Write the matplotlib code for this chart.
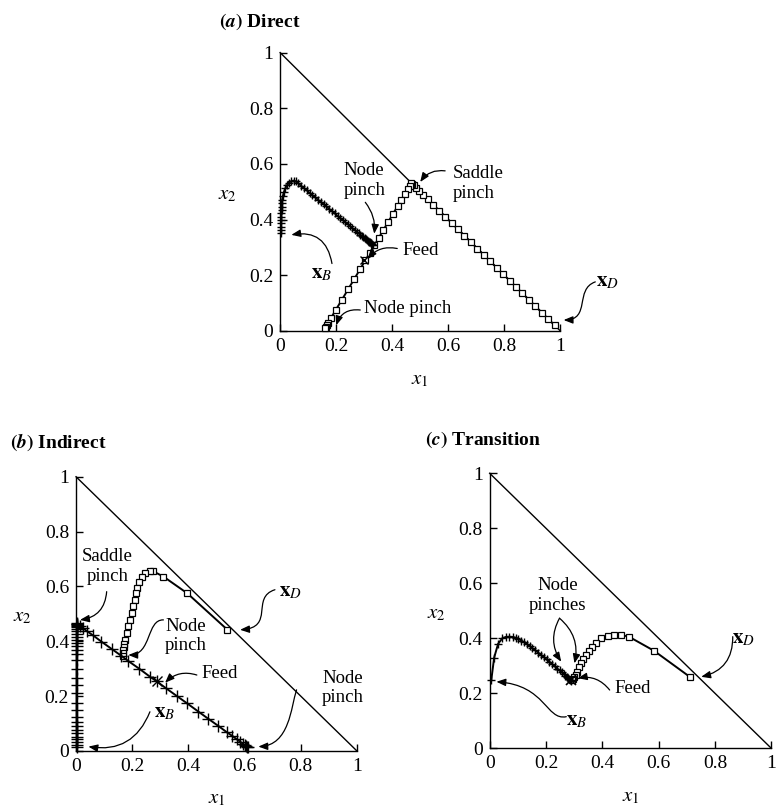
import matplotlib
matplotlib.use('Agg')
import matplotlib.pyplot as plt
from matplotlib.patches import FancyArrowPatch
from matplotlib.path import Path

plt.rcParams['font.family'] = ['Liberation Serif', 'DejaVu Serif']
plt.rcParams['mathtext.fontset'] = 'stix'

tick_vals = [0, 0.2, 0.4, 0.6, 0.8, 1]
tick_labels = ['0', '0.2', '0.4', '0.6', '0.8', '1']

# ---------------- (a) Direct ----------------
a_rect_x = [0.980, 0.957, 0.934, 0.911, 0.888, 0.865, 0.842, 0.819, 0.796, 0.773,
            0.750, 0.727, 0.704, 0.681, 0.658, 0.635, 0.612, 0.590, 0.568, 0.547,
            0.527, 0.510, 0.496, 0.485, 0.477, 0.471, 0.467,
            0.463, 0.455, 0.446, 0.433, 0.420, 0.403, 0.385, 0.368, 0.352, 0.336,
            0.320, 0.304, 0.285, 0.265, 0.243, 0.220, 0.199, 0.182, 0.172, 0.166,
            0.163, 0.161]
a_rect_y = [0.020, 0.043, 0.066, 0.089, 0.112, 0.135, 0.158, 0.181, 0.204, 0.227,
            0.250, 0.273, 0.296, 0.319, 0.342, 0.365, 0.388, 0.410, 0.432, 0.453,
            0.473, 0.490, 0.504, 0.515, 0.523, 0.529, 0.533,
            0.522, 0.509, 0.493, 0.471, 0.449, 0.421, 0.390, 0.362, 0.334, 0.307,
            0.280, 0.253, 0.221, 0.187, 0.150, 0.111, 0.076, 0.047, 0.030, 0.020,
            0.015, 0.012]
a_strip_x = [0.003, 0.003, 0.003, 0.003, 0.004, 0.004, 0.004, 0.005, 0.005, 0.005,
             0.007, 0.010, 0.014, 0.019, 0.025, 0.032, 0.040, 0.048, 0.056,
             0.065, 0.075, 0.085, 0.095, 0.105, 0.115, 0.125, 0.135, 0.145, 0.155,
             0.165, 0.175, 0.185, 0.195, 0.205, 0.215, 0.224, 0.233, 0.242, 0.250,
             0.258, 0.266, 0.273, 0.280, 0.286, 0.292, 0.297, 0.302, 0.306, 0.310,
             0.314, 0.317, 0.320, 0.323, 0.325, 0.327, 0.329, 0.330]
a_strip_y = [0.350, 0.362, 0.374, 0.386, 0.398, 0.410, 0.422, 0.434, 0.446, 0.458,
             0.470, 0.485, 0.500, 0.513, 0.524, 0.533, 0.538, 0.540, 0.537,
             0.530, 0.521, 0.513, 0.505, 0.496, 0.488, 0.480, 0.471, 0.463, 0.455,
             0.447, 0.438, 0.430, 0.422, 0.413, 0.405, 0.398, 0.390, 0.383, 0.376,
             0.369, 0.363, 0.357, 0.351, 0.346, 0.341, 0.337, 0.333, 0.330, 0.326,
             0.323, 0.320, 0.318, 0.315, 0.314, 0.312, 0.310, 0.310]
a_feed = (0.300, 0.256)

# ---------------- (b) Indirect ----------------
b_strip_x = [0.002] * 31 + [0.005, 0.014, 0.026, 0.040, 0.060, 0.090, 0.127, 0.160, 0.186,
                            0.225, 0.263, 0.287, 0.320, 0.358, 0.395, 0.435, 0.470, 0.507,
                            0.536, 0.556, 0.572, 0.584, 0.593, 0.600, 0.605, 0.609, 0.612]
b_strip_y = [0.015, 0.022, 0.032, 0.042, 0.052, 0.064, 0.076, 0.090, 0.105, 0.125,
             0.150, 0.174, 0.210, 0.240, 0.266, 0.300, 0.332, 0.355, 0.369, 0.383,
             0.394, 0.405, 0.417, 0.428, 0.438, 0.446, 0.452, 0.457, 0.461, 0.464, 0.466,
             0.462, 0.456, 0.447, 0.436, 0.422, 0.399, 0.372, 0.348, 0.328,
             0.300, 0.271, 0.254, 0.229, 0.201, 0.174, 0.144, 0.118, 0.091,
             0.069, 0.055, 0.043, 0.034, 0.027, 0.022, 0.018, 0.015, 0.013]
b_rect_x = [0.539, 0.396, 0.311, 0.275, 0.263, 0.246, 0.234, 0.225, 0.218, 0.214,
            0.210, 0.204, 0.198, 0.192, 0.186, 0.180, 0.174, 0.171, 0.169, 0.168,
            0.167, 0.166]
b_rect_y = [0.442, 0.575, 0.636, 0.655, 0.655, 0.649, 0.636, 0.618, 0.594, 0.575,
            0.551, 0.527, 0.503, 0.478, 0.454, 0.430, 0.405, 0.390, 0.378, 0.368,
            0.357, 0.348]
b_feed = (0.287, 0.254)

# ---------------- (c) Transition ----------------
c_strip_x = [0.006, 0.016, 0.030, 0.045, 0.058, 0.070, 0.082, 0.092, 0.102, 0.112,
             0.122, 0.132, 0.142, 0.152, 0.162, 0.172, 0.182, 0.192, 0.202, 0.212,
             0.222, 0.231, 0.240, 0.248, 0.256, 0.263, 0.269, 0.274, 0.278, 0.282,
             0.285, 0.287, 0.289]
c_strip_y = [0.250, 0.330, 0.380, 0.400, 0.405, 0.406, 0.405, 0.402, 0.398, 0.392,
             0.386, 0.379, 0.372, 0.364, 0.356, 0.348, 0.340, 0.332, 0.323, 0.315,
             0.306, 0.298, 0.290, 0.283, 0.276, 0.270, 0.264, 0.259, 0.256, 0.253,
             0.250, 0.248, 0.246]
c_rect_x = [0.713, 0.583, 0.494, 0.468, 0.443, 0.420, 0.396, 0.378, 0.364, 0.352,
            0.343, 0.333, 0.325, 0.317, 0.310, 0.305, 0.301, 0.296, 0.292]
c_rect_y = [0.258, 0.355, 0.406, 0.412, 0.412, 0.408, 0.400, 0.384, 0.369, 0.355,
            0.339, 0.324, 0.309, 0.295, 0.279, 0.267, 0.258, 0.252, 0.248]
c_feed = (0.290, 0.248)

fig = plt.figure(figsize=(7.76, 8.09), dpi=100)
ax_a = fig.add_axes([0.361, 0.591, 0.361, 0.344])
ax_b = fig.add_axes([0.098, 0.0717, 0.362, 0.339])
ax_c = fig.add_axes([0.631, 0.075, 0.363, 0.340])

LW = 1.4
SQ = dict(marker='s', ms=4.5, mfc='white', mec='black', mew=0.9)
PL = dict(marker='+', ms=6, mew=1.0)
ANN = 13.5
HEAD = '-|>,head_length=0.55,head_width=0.22'


def style(ax):
    ax.set_xlim(0, 1)
    ax.set_ylim(0, 1)
    for s in ['top', 'right']:
        ax.spines[s].set_visible(False)
    for s in ['left', 'bottom']:
        ax.spines[s].set_linewidth(1.0)
    ax.set_xticks(tick_vals)
    ax.set_xticklabels(tick_labels)
    ax.set_yticks(tick_vals)
    ax.set_yticklabels(tick_labels)
    ax.tick_params(direction='in', length=5, width=1.0, labelsize=14, pad=5)
    ax.plot([0, 1], [1, 0], color='black', lw=1.0, clip_on=False)
    ax.text(0.5, -0.175, r'$x_1$', fontsize=15, ha='center', va='center',
            transform=ax.transAxes)
    ax.text(-0.19, 0.49, r'$x_2$', fontsize=15, ha='center', va='center',
            transform=ax.transAxes)


def arrow(ax, start, end, rad):
    ax.annotate('', xy=end, xytext=start,
                arrowprops=dict(arrowstyle=HEAD,
                                connectionstyle='arc3,rad=%s' % rad,
                                color='black', lw=0.9, shrinkA=0, shrinkB=0),
                annotation_clip=False)


def s_arrow(ax, p0, p1, p2, p3):
    path = Path([p0, p1, p2, p3],
                [Path.MOVETO, Path.CURVE4, Path.CURVE4, Path.CURVE4])
    patch = FancyArrowPatch(path=path, arrowstyle=HEAD, color='black', lw=0.9,
                            transform=ax.transData, clip_on=False,
                            mutation_scale=10)
    ax.add_patch(patch)


def title(ax, letter, word, x, y):
    ax.text(x, y, r'$\mathbf{(}\mathbfit{%s}\mathbf{)}$ %s' % (letter, word),
            fontsize=14, fontweight='bold', ha='left', va='center',
            transform=ax.transAxes)


# ---- panel a ----
style(ax_a)
ax_a.plot(a_rect_x, a_rect_y, color='black', lw=LW, clip_on=False, zorder=3, **SQ)
ax_a.plot(a_strip_x, a_strip_y, color='black', lw=LW, clip_on=False, zorder=4,
          **PL)
ax_a.plot([a_feed[0]], [a_feed[1]], color='black', marker='x', ms=6, mew=1.0,
          zorder=5)
title(ax_a, 'a', 'Direct', -0.22, 1.11)
ax_a.text(0.30, 0.54, 'Node\npinch', fontsize=ANN, ha='center', va='center')
arrow(ax_a, (0.304, 0.462), (0.336, 0.349), -0.2)
ax_a.text(0.615, 0.53, 'Saddle\npinch', fontsize=ANN, ha='left', va='center')
arrow(ax_a, (0.589, 0.575), (0.50, 0.535), 0.3)
ax_a.text(0.436, 0.29, 'Feed', fontsize=ANN, ha='left', va='center')
arrow(ax_a, (0.418, 0.296), (0.312, 0.258), 0.3)
ax_a.text(0.15, 0.205, r'$\mathbf{x}_B$', fontsize=15, ha='center', va='center')
arrow(ax_a, (0.185, 0.242), (0.04, 0.345), 0.5)
ax_a.text(0.30, 0.08, 'Node pinch', fontsize=ANN, ha='left', va='center')
arrow(ax_a, (0.286, 0.075), (0.20, 0.02), 0.4)
ax_a.text(1.17, 0.175, r'$\mathbf{x}_D$', fontsize=15, ha='center', va='center')
s_arrow(ax_a, (1.125, 0.176), (1.05, 0.15), (1.11, 0.04), (1.012, 0.039))

# ---- panel b ----
style(ax_b)
ax_b.plot(b_strip_x, b_strip_y, color='black', lw=LW, clip_on=False, zorder=4,
          marker='+', ms=8, mew=1.0)
ax_b.plot(b_rect_x, b_rect_y, color='black', lw=LW, clip_on=False, zorder=3, **SQ)
ax_b.plot([b_feed[0]], [b_feed[1]], color='black', marker='x', ms=7, mew=1.0,
          zorder=5)
title(ax_b, 'b', 'Indirect', -0.235, 1.124)
ax_b.text(0.112, 0.672, 'Saddle\npinch', fontsize=ANN, ha='center', va='center')
arrow(ax_b, (0.109, 0.581), (0.014, 0.478), -0.4)
ax_b.text(0.391, 0.42, 'Node\npinch', fontsize=ANN, ha='center', va='center')
s_arrow(ax_b, (0.311, 0.478), (0.25, 0.48), (0.27, 0.35), (0.186, 0.35))
ax_b.text(0.447, 0.284, 'Feed', fontsize=ANN, ha='left', va='center')
arrow(ax_b, (0.43, 0.277), (0.317, 0.249), 0.3)
ax_b.text(0.315, 0.14, r'$\mathbf{x}_B$', fontsize=15, ha='center', va='center')
arrow(ax_b, (0.263, 0.143), (0.044, 0.016), -0.4)
ax_b.text(0.765, 0.58, r'$\mathbf{x}_D$', fontsize=15, ha='center', va='center')
s_arrow(ax_b, (0.708, 0.588), (0.62, 0.56), (0.71, 0.45), (0.584, 0.442))
ax_b.text(0.948, 0.229, 'Node\npinch', fontsize=ANN, ha='center', va='center')
s_arrow(ax_b, (0.785, 0.223), (0.765, 0.16), (0.76, 0.02), (0.649, 0.016))

# ---- panel c ----
style(ax_c)
ax_c.plot(c_strip_x, c_strip_y, color='black', lw=LW, clip_on=False, zorder=4,
          **PL)
ax_c.plot(c_rect_x, c_rect_y, color='black', lw=LW, clip_on=False, zorder=3, **SQ)
ax_c.plot([c_feed[0]], [c_feed[1]], color='black', marker='x', ms=7, mew=1.2,
          zorder=5)
title(ax_c, 'c', 'Transition', -0.23, 1.12)
ax_c.text(0.242, 0.555, 'Node\npinches', fontsize=ANN, ha='center', va='center')
arrow(ax_c, (0.248, 0.473), (0.254, 0.315), 0.3)
arrow(ax_c, (0.248, 0.473), (0.301, 0.309), -0.3)
ax_c.text(0.443, 0.219, 'Feed', fontsize=ANN, ha='left', va='center')
arrow(ax_c, (0.426, 0.212), (0.313, 0.255), 0.3)
ax_c.text(0.31, 0.10, r'$\mathbf{x}_B$', fontsize=15, ha='center', va='center')
s_arrow(ax_c, (0.272, 0.115), (0.20, 0.10), (0.20, 0.23), (0.024, 0.242))
ax_c.text(0.90, 0.40, r'$\mathbf{x}_D$', fontsize=15, ha='center', va='center')
arrow(ax_c, (0.863, 0.406), (0.751, 0.26), -0.4)

fig.savefig('out.png', dpi=100)
